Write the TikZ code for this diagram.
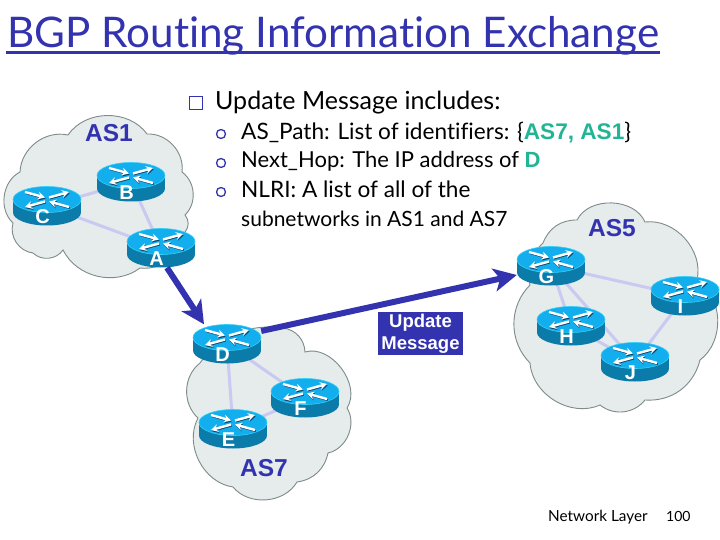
\documentclass[tikz,border=0pt]{standalone}
\usepackage{fontspec}
\usetikzlibrary{arrows.meta}
\setmainfont{Lato}[Ligatures=NoCommon]
\newfontfamily\labelfont{Liberation Sans}

\definecolor{slideblue}{HTML}{3333B0}
\definecolor{cloudfill}{HTML}{E6EBEB}
\definecolor{cloudline}{HTML}{7F8A8A}
\definecolor{linkcol}{HTML}{C9C9F2}
\definecolor{routertop}{HTML}{12AEEE}
\definecolor{routerside}{HTML}{0B7BAA}
\definecolor{routerrim}{HTML}{35D0F5}
\definecolor{routershade}{HTML}{0A4A6E}
\definecolor{hopteal}{HTML}{22B595}

\tikzset{
  cloudshape/.style={fill=cloudfill, draw=cloudline, line width=0.9pt},
  link/.style={draw=linkcol, line width=3pt},
  msgarrow/.style={draw=slideblue, line width=6pt, -{Stealth[length=23pt,width=23pt,inset=6pt]}},
  routerbox/.style={minimum width=68pt, minimum height=39pt, inner sep=0pt},
  routerlabel/.style={text=white, font=\labelfont\bfseries\fontsize{20}{20}\selectfont, inner sep=0pt},
  aslabel/.style={text=slideblue, font=\labelfont\bfseries\fontsize{24.5}{24.5}\selectfont, inner sep=0pt},
  mainline/.style={anchor=base west, inner sep=0pt, font=\fontsize{25}{25}\selectfont},
  subline/.style={anchor=base west, inner sep=0pt},
  subbullet/.style={circle, draw=slideblue, fill=white, line width=1.3pt, minimum size=9pt, inner sep=0pt},
  routerarrow/.style={draw=white, line width=2.4pt, -{Stealth[length=7pt,width=7.5pt]}},
  routerarrowshade/.style={draw=routershade, line width=1.6pt, -{Stealth[length=7pt,width=7.5pt]}, shift={(0.7,1.2)}},
}

% one router: name, x, y
\newcommand{\router}[3]{
  \begin{scope}[shift={(#2,#3)}]
    \fill[routerside] (-34,-6.5) rectangle (34,6.5);
    \fill[routerside] (0,6.5) ellipse [x radius=34pt, y radius=13pt];
    \fill[routertop, draw=routerrim, line width=0.6pt] (0,-6.5) ellipse [x radius=34pt, y radius=13pt];
    \draw[routerarrowshade] (-22,-14) -- (-2,-8.5);
    \draw[routerarrowshade] (2,-8.5) -- (22,-14);
    \draw[routerarrowshade] (-2,-4.5) -- (-22,1);
    \draw[routerarrowshade] (22,1) -- (2,-4.5);
    \draw[routerarrow] (-22,-14) -- (-2,-8.5);
    \draw[routerarrow] (2,-8.5) -- (22,-14);
    \draw[routerarrow] (-2,-4.5) -- (-22,1);
    \draw[routerarrow] (22,1) -- (2,-4.5);
  \end{scope}
  \node[routerbox] (#1) at (#2,#3) {};
  \node[routerlabel] (#1 label) at ([shift={(-4.5pt,-10.5pt)}]#1.center) {#1};
}

\begin{document}
\begin{tikzpicture}[x=1pt, y=-1pt]
  \useasboundingbox (0,0) rectangle (720,540);
  \fill[white] (0,0) rectangle (720,540);

  % title
  \node[anchor=base west, inner sep=0pt, text=slideblue, font=\fontsize{42.2}{42}\selectfont] (title) at (7,48) {BGP Routing Information Exchange};
  \fill[slideblue] (6,51) rectangle (660,54);

  % clouds
  \path[cloudshape] (20,172) to[bend left=50] (68,135) to[bend left=55] (147,134)
    to[bend left=50] (182,172) to[bend left=50] (185,215) to[bend left=40] (185,232)
    to[bend left=45] (140,268) to[bend left=50] (63,250) to[bend left=50] (33,253)
    to[bend left=50] (13,223) to[bend left=55] cycle;
  \path[cloudshape] (283,328) to[bend left=40] (305,352) to[bend left=70] (347,408)
    to[bend left=55] (328,453) to[bend left=35] (297,482) to[bend left=55] (233,487)
    to[bend left=55] (198,418) to[bend left=50] (200,363) to[bend left=30] cycle;
  \path[cloudshape] (543,243) to[bend left=35] (577,220) to[bend left=65] (645,222)
    to[bend left=55] (697,280) to[bend left=55] (700,360) to[bend left=40] (645,400)
    to[bend left=45] (600,405) to[bend left=55] (530,363) to[bend left=45] (530,285)
    to[bend left=30] cycle;

  \node[aslabel] (as1) at (109,133) {AS1};
  \node[aslabel] (as5) at (612,228) {AS5};
  \node[aslabel] (as7) at (264,468) {AS7};

  % centres of the routers, for the links underneath them
  \foreach \n/\x/\y in {A/161/248, B/131/182, C/47/206, D/227/344, E/233/429, F/305/398,
                        G/551/266, H/571/326, I/685/296, J/635/362}
    \coordinate (\n c) at (\x,\y);

  \draw[link] (Ac) -- (Bc);
  \draw[link] (Bc) -- (Cc);
  \draw[link] (Cc) -- (Ac);
  \draw[link] (Dc) -- (Ec);
  \draw[link] (Dc) -- (Fc);
  \draw[link] (Ec) -- (Fc);
  \draw[link] (Gc) -- (Hc);
  \draw[link] (Gc) -- (Ic);
  \draw[link] (Gc) -- (Jc);
  \draw[link] (Hc) -- (Jc);
  \draw[link] (Ic) -- (Jc);

  \router{A}{161}{248}
  \router{B}{131}{182}
  \router{C}{47}{206}
  \router{D}{227}{344}
  \router{E}{233}{429}
  \router{F}{305}{398}
  \router{G}{551}{266}
  \router{H}{571}{326}
  \router{I}{685}{296}
  \router{J}{635}{362}

  % update message path
  \draw[msgarrow] ([xshift=6pt]A.south) -- ([xshift=-23pt]D.north);
  \draw[msgarrow] ([yshift=13pt]D.east) -- ([yshift=-9pt]G.west);

  \node[fill=slideblue, text=white, align=center, inner sep=0pt, minimum width=85pt, minimum height=43pt,
        font=\labelfont\bfseries\fontsize{18.5}{22}\selectfont] (update) at (420.5,333.5) {Update\\Message};

  % text block
  \node[draw=slideblue, fill=white, line width=1.6pt, minimum size=13pt, inner sep=0pt] (mainbullet) at (196,103) {};
  \node[mainline] (main) at (215,110) {Update Message includes:};
  \node[subbullet] (sub1) at (221,134) {};
  \node[subbullet] (sub2) at (221,163) {};
  \node[subbullet] (sub3) at (221,192) {};
  \node[subline, font=\fontsize{22.6}{23}\selectfont] (path) at (241,140) {AS\_Path: List of identifiers: \{{\labelfont\bfseries\color{hopteal}AS7, AS1}\}};
  \node[subline, font=\fontsize{22}{23}\selectfont] (hop) at (241,168) {Next\_Hop: The IP address of {\labelfont\bfseries\color{hopteal}D}};
  \node[subline, font=\fontsize{22.6}{23}\selectfont] (nlri) at (241,197) {NLRI: A list of all of the};
  \node[subline, font=\fontsize{21}{23}\selectfont] (subnets) at (241,226) {subnetworks in AS1 and AS7};

  % footer
  \node[anchor=base west, inner sep=0pt, font=\fontsize{15.3}{16}\selectfont] (layer) at (548,521) {Network Layer};
  \node[anchor=base west, inner sep=0pt, font=\fontsize{14}{14}\selectfont] (page) at (666,521) {100};
\end{tikzpicture}
\end{document}
